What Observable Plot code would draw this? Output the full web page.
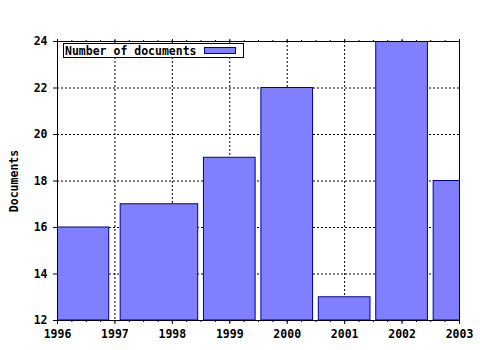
<!DOCTYPE html>
<html>
<head>
<meta charset="utf-8">
<script src="https://cdn.jsdelivr.net/npm/d3@7"></script>
<script src="https://cdn.jsdelivr.net/npm/@observablehq/plot@0.6"></script>
<style>
  html, body { margin: 0; padding: 0; background: #fff; }
  svg { font-family: "DejaVu Sans Mono", monospace; font-weight: bold; }
</style>
</head>
<body>
<div id="chart"></div>
<script>
const years = [1996, 1998, 1999, 2000, 2001, 2002, 2003];
const documents = [16, 17, 19, 22, 13, 24, 18];
const xTicks = [1996, 1997, 1998, 1999, 2000, 2001, 2002, 2003];
const yTicks = [12, 14, 16, 18, 20, 22, 24];
const seriesName = "Number of documents";
const yLabel = "Documents";

// gnuplot-style autowidth boxes (relative width 0.9)
const rel = 0.9;
const data = years.map((x, i) => {
  const prev = i > 0 ? years[i - 1] : x - (years[i + 1] - x);
  const next = i < years.length - 1 ? years[i + 1] : x + (x - years[i - 1]);
  return {x1: x - rel * (x - prev) / 2, x2: x + rel * (next - x) / 2, y: documents[i]};
});
const minorTicks = d3.range(xTicks[0], xTicks[xTicks.length - 1] + 1e-9, 0.25);

const fill = "#8080ff", stroke = "#0000a0";

const chart = Plot.plot({
  width: 480, height: 350,
  marginLeft: 57, marginRight: 21, marginTop: 41, marginBottom: 30,
  style: {fontFamily: "DejaVu Sans Mono, monospace", fontSize: "11.5px", fontWeight: "bold", background: "#fff"},
  x: {domain: [1996, 2003]},
  y: {domain: [12, 24]},
  marks: [
    Plot.ruleX(xTicks, {stroke: "#000", strokeDasharray: "2,2", strokeWidth: 1}),
    Plot.ruleY(yTicks, {stroke: "#000", strokeDasharray: "2,2", strokeWidth: 1}),
    Plot.rect(data, {x1: "x1", x2: "x2", y1: 12, y2: "y", fill, stroke, strokeWidth: 1, clip: true}),
    Plot.frame({stroke: "#000", strokeWidth: 1}),
    Plot.axisX(minorTicks, {tickSize: 2, text: null, anchor: "bottom", label: null}),
    Plot.axisX(minorTicks, {tickSize: 2, text: null, anchor: "top", label: null}),
    Plot.axisX(xTicks, {tickSize: 4, tickPadding: 5, tickFormat: d => String(d), anchor: "bottom", label: null, fill: "#000"}),
    Plot.axisX(xTicks, {tickSize: 3, text: null, anchor: "top", label: null}),
    Plot.axisY(yTicks, {tickSize: 4, tickPadding: 6, anchor: "left", label: null, fill: "#000"})
  ]
});
document.getElementById("chart").appendChild(chart);

const svg = d3.select(chart);
// y-axis title
svg.append("text")
  .attr("transform", "translate(18,181) rotate(-90)")
  .attr("text-anchor", "middle")
  .attr("font-size", "11.5px")
  .attr("font-weight", "bold")
  .attr("fill", "#000")
  .text(yLabel);
// legend
const lg = svg.append("g");
lg.append("rect").attr("x", 63.5).attr("y", 43.5).attr("width", 180).attr("height", 14)
  .attr("fill", "#fff").attr("stroke", "#000");
lg.append("text").attr("x", 65).attr("y", 54.5).attr("text-anchor", "start")
  .attr("font-size", "11.5px").attr("font-weight", "bold")
  .attr("fill", "#000").text(seriesName);
lg.append("rect").attr("x", 204.5).attr("y", 47.5).attr("width", 31).attr("height", 6)
  .attr("fill", fill).attr("stroke", stroke);
</script>
</body>
</html>
